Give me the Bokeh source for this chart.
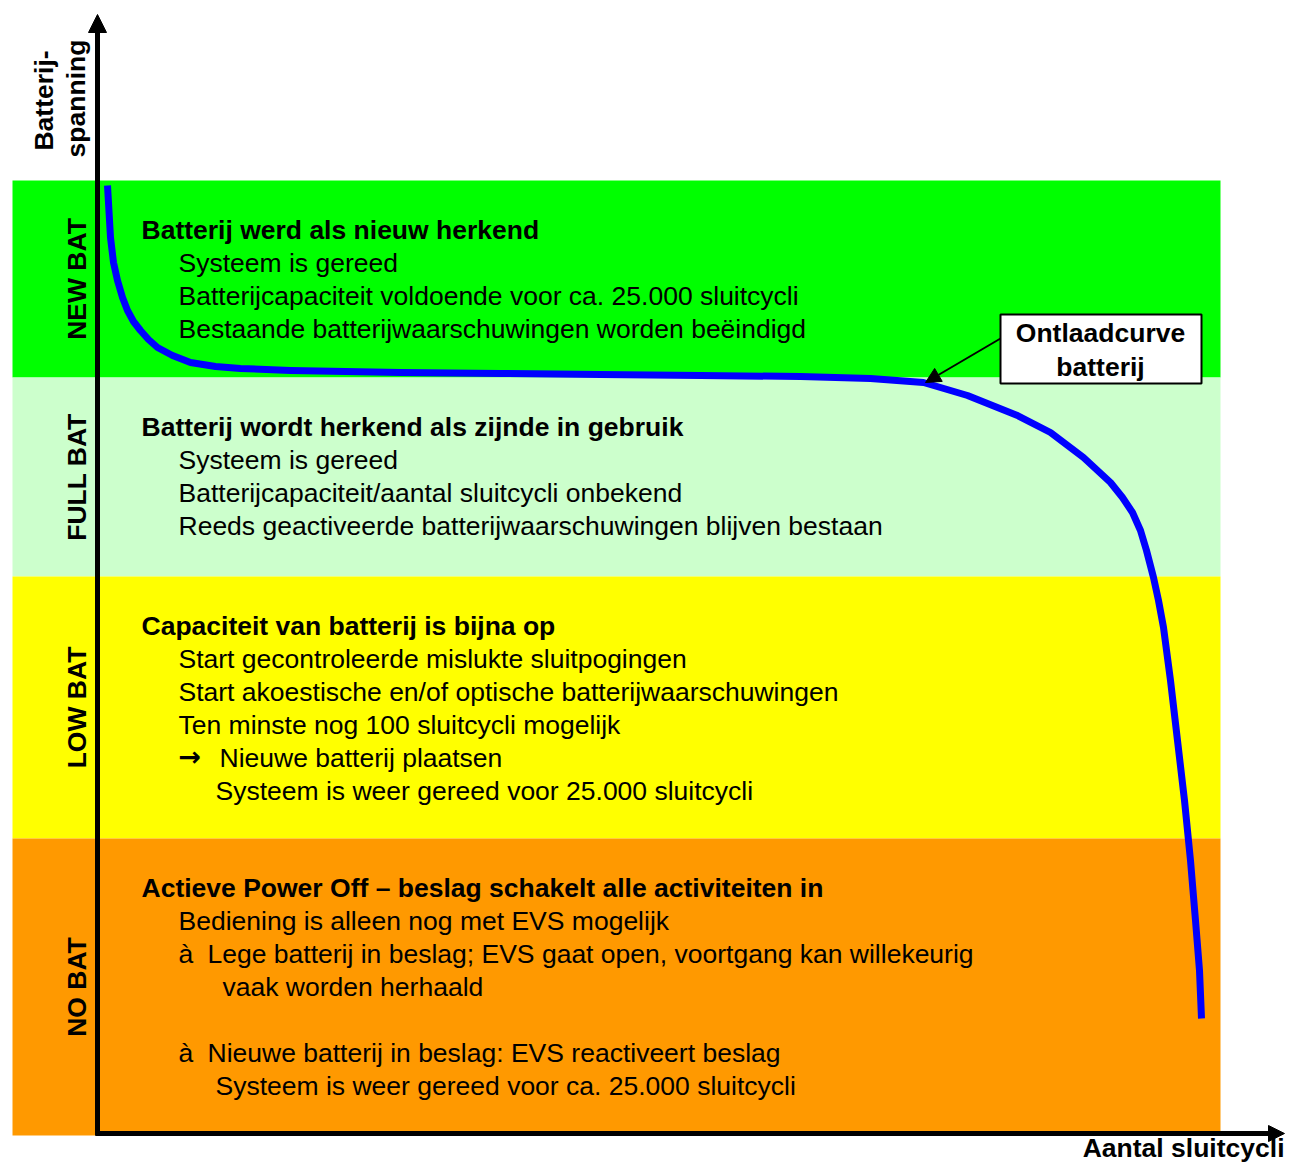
import math
from bokeh.plotting import figure
from bokeh.models import Range1d, Arrow, NormalHead
from bokeh.core.properties import value
from bokeh.embed import file_html
from bokeh.resources import INLINE

# ---------------- data ----------------
band_names = ["NEW BAT", "FULL BAT", "LOW BAT", "NO BAT"]
band_upper = [953, 756, 557, 295]
band_lower = [756, 557, 295, -2]
band_colors = ["#00FF00", "#CCFFCC", "#FFFF00", "#FF9900"]

headers = [
    "Batterij werd als nieuw herkend",
    "Batterij wordt herkend als zijnde in gebruik",
    "Capaciteit van batterij is bijna op",
    "Actieve Power Off \u2013 beslag schakelt alle activiteiten in",
]
new_lines = [
    "Systeem is gereed",
    "Batterijcapaciteit voldoende voor ca. 25.000 sluitcycli",
    "Bestaande batterijwaarschuwingen worden be\u00ebindigd",
]
full_lines = [
    "Systeem is gereed",
    "Batterijcapaciteit/aantal sluitcycli onbekend",
    "Reeds geactiveerde batterijwaarschuwingen blijven bestaan",
]
low_lines = [
    "Start gecontroleerde mislukte sluitpogingen",
    "Start akoestische en/of optische batterijwaarschuwingen",
    "Ten minste nog 100 sluitcycli mogelijk",
    "Nieuwe batterij plaatsen",
    "Systeem is weer gereed voor 25.000 sluitcycli",
]
low_bullets = ["", "", "", "\u2192", ""]
no_lines = [
    "Bediening is alleen nog met EVS mogelijk",
    "Lege batterij in beslag; EVS gaat open, voortgang kan willekeurig",
    "vaak worden herhaald",
    "",
    "Nieuwe batterij in beslag: EVS reactiveert beslag",
    "Systeem is weer gereed voor ca. 25.000 sluitcycli",
]
no_bullets = ["", "\u00e0", "", "", "\u00e0", ""]

# discharge curve (cycles, voltage) in chart units
cycles = [10, 13, 16, 20, 25, 30, 36, 43, 51, 60, 75, 93, 118, 143, 193, 303, 403,
          503, 603, 703, 773, 826, 870, 920, 953, 986, 1013, 1025, 1035, 1043, 1049,
          1056, 1061, 1066, 1073, 1080, 1087, 1093, 1098, 1102, 1104]
voltage = [948, 896, 871, 853, 836, 823, 812, 803, 794, 786, 778, 771, 767, 765, 763,
           761, 760, 759, 758, 757, 755, 751, 738, 718, 701, 676, 651, 636, 621, 603,
           583, 556, 533, 506, 453, 393, 333, 273, 213, 163, 115]

x_title = "Aantal sluitcycli"
y_title = ["Batterij-", "spanning"]
curve_label = ["Ontlaadcurve", "batterij"]

# ---------------- layout ----------------
FONT = value("Liberation Sans")
FS = value("26.5px")
HEAD_X = 44
BODY_X = 81
LINE_H = 33
indents = {
    0: [0, 0, 0],
    1: [0, 0, 0],
    2: [0, 0, 0, 41, 37],
    3: [0, 29, 44, 0, 29, 37],
}
band_lines = [new_lines, full_lines, low_lines, no_lines]
band_bullets = [[""] * 3, [""] * 3, low_bullets, no_bullets]

W, H = 1285, 1162
p = figure(width=W, height=H, x_range=Range1d(-97, W - 97), y_range=Range1d(-(H - 1133), 1133),
           output_backend="svg", toolbar_location=None, min_border=0,
           x_axis_type=None, y_axis_type=None)
p.grid.visible = False
p.outline_line_color = None
p.background_fill_color = "white"

# bands
p.quad(left=-85, right=1123, top=band_upper, bottom=band_lower,
       fill_color=band_colors, line_color=None)

# band labels (rotated)
mid = [(u + l) / 2 for u, l in zip(band_upper, band_lower)]
p.text(x=[-21] * 4, y=mid, text=band_names, angle=math.pi / 2,
       text_font=FONT, text_font_size=FS, text_font_style="bold",
       text_align="center", text_baseline="middle", text_color="black")

# headers and body text
hx, hy = [], []
bx, by, bt = [], [], []
ux, uy, ut = [], [], []
for i, up in enumerate(band_upper):
    y0 = up - 49
    hx.append(HEAD_X)
    hy.append(y0)
    for j, (t, b) in enumerate(zip(band_lines[i], band_bullets[i])):
        yy = y0 - LINE_H * (j + 1)
        if t:
            bx.append(BODY_X + indents[i][j])
            by.append(yy)
            bt.append(t)
        if b:
            ux.append(BODY_X)
            uy.append(yy)
            ut.append(b)

p.text(x=hx, y=hy, text=headers, text_font=FONT, text_font_size=FS,
       text_font_style="bold", text_baseline="middle", text_color="black")
p.text(x=bx, y=by, text=bt, text_font=FONT, text_font_size=FS,
       text_baseline="middle", text_color="black")
p.text(x=[ux[0]], y=[uy[0] + 1], text=[ut[0]], text_font=value("DejaVu Sans"),
       text_font_size=value("27px"), text_font_style="bold",
       text_baseline="middle", text_color="black")
p.text(x=ux[1:], y=uy[1:], text=ut[1:], text_font=FONT, text_font_size=FS,
       text_baseline="middle", text_color="black")

# curve
p.line(x=cycles, y=voltage, line_color="#0000FF", line_width=7,
       line_cap="butt", line_join="round")

# curve label box + pointer
p.quad(left=[903], right=[1104], top=[819], bottom=[750],
       fill_color="white", line_color="black", line_width=2)
p.text(x=[1003, 1003], y=[801, 767], text=curve_label, text_font=FONT, text_font_size=FS,
       text_font_style="bold", text_align="center", text_baseline="middle",
       text_color="black")
p.add_layout(Arrow(end=NormalHead(size=15, fill_color="black", line_color="black"),
                   x_start=903, y_start=795, x_end=828, y_end=751,
                   line_color="black", line_width=2))

# axes (arrows)
p.add_layout(Arrow(end=NormalHead(size=18, fill_color="black", line_color="black"),
                   x_start=0, y_start=-2, x_end=0, y_end=1119,
                   line_color="black", line_width=5))
p.add_layout(Arrow(end=NormalHead(size=16, fill_color="black", line_color="black"),
                   x_start=-2, y_start=0, x_end=1187, y_end=0,
                   line_color="black", line_width=5))

# axis titles
p.text(x=[1187], y=[-14], text=[x_title], text_font=FONT, text_font_size=FS,
       text_font_style="bold", text_align="right", text_baseline="middle",
       text_color="black")
p.text(x=[-54, -22], y=[1033, 1035], text=y_title, angle=math.pi / 2,
       text_font=FONT, text_font_size=FS, text_font_style="bold",
       text_align="center", text_baseline="middle", text_color="black")

open("out.html", "w").write(file_html(p, INLINE))
